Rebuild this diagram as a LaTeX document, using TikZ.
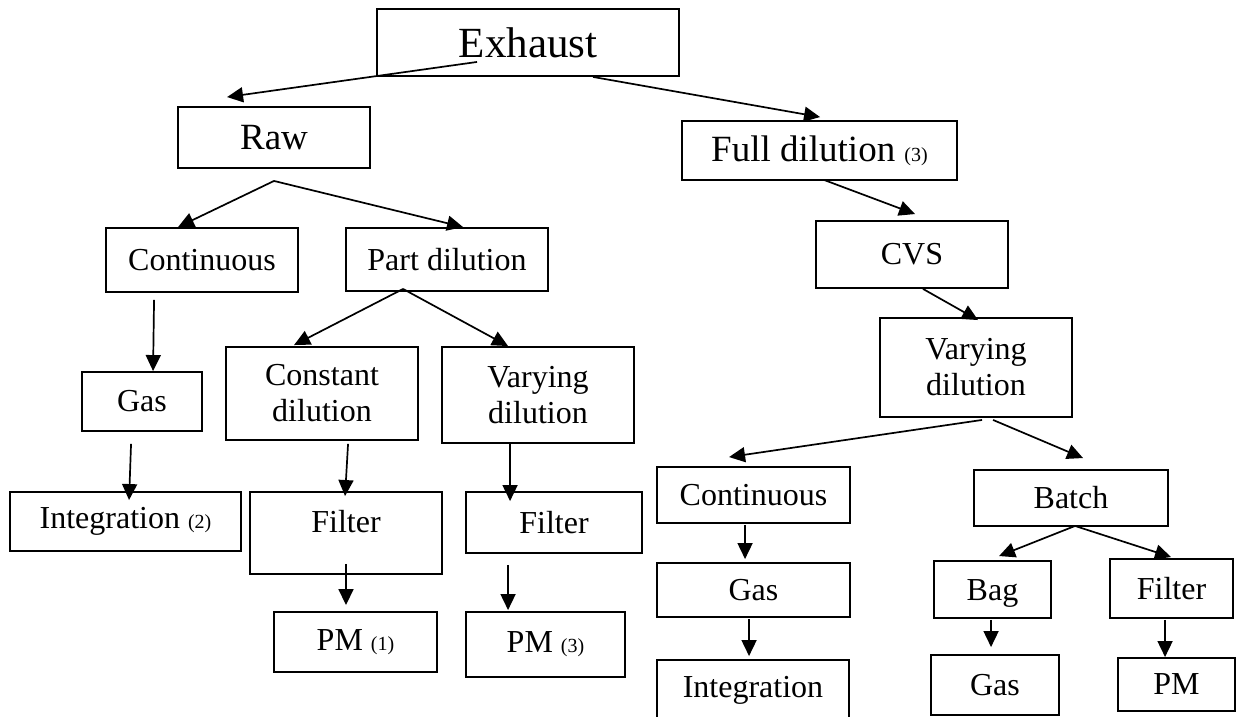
\documentclass[tikz,border=0pt]{standalone}
\usepackage{fontspec}
\setmainfont{Liberation Serif}
\usetikzlibrary{arrows.meta}
\newcommand{\smallnum}[1]{{\fontsize{20}{22}\selectfont(#1)}}
\begin{document}
\begin{tikzpicture}[x=1pt,y=-1pt,
  box/.style={draw, line width=1.9pt, inner sep=0pt, align=center, font=\fontsize{32}{36}\selectfont},
  bigbox/.style={box, font=\fontsize{37}{40}\selectfont},
  arr/.style={line width=1.7pt, -{Triangle[length=16pt,width=15pt]}}]
\fill[white] (0,0) rectangle (1243,717);
\useasboundingbox (0,0) rectangle (1243,717);
% nodes
\node[box, font=\fontsize{43}{46}\selectfont, minimum width=302pt, minimum height=67pt] (exh) at (528,42.5) {Exhaust};
\node[bigbox, minimum width=192pt, minimum height=61pt] (raw) at (274,137.5) {Raw};
\node[bigbox, minimum width=275pt, minimum height=59pt] (full) at (819.5,150.5) {Full dilution \smallnum{3}};
\node[box, minimum width=192pt, minimum height=64pt] (cont) at (202,260) {Continuous};
\node[box, minimum width=202pt, minimum height=63pt] (part) at (447,259.5) {Part dilution};
\node[box, minimum width=120pt, minimum height=59pt] (gasA) at (142,401.5) {Gas};
\node[box, minimum width=192pt, minimum height=93pt] (const) at (322,393.5) {Constant\\dilution};
\node[box, minimum width=192pt, minimum height=96pt] (varyA) at (538,395) {Varying\\dilution};
\node[box, minimum width=231pt, minimum height=59pt] (integA) at (125.5,521.5) {Integration \smallnum{2}};
\node[box, minimum width=192pt, minimum height=82pt, text height=22pt, text depth=24pt] (filtA) at (346,533) {Filter};
\node[box, minimum width=163pt, minimum height=60pt] (pmA) at (355.5,642) {PM \smallnum{1}};
\node[box, minimum width=176pt, minimum height=61pt] (filtB) at (554,522.5) {Filter};
\node[box, minimum width=159pt, minimum height=65pt] (pmB) at (545.5,644.5) {PM \smallnum{3}};
\node[box, minimum width=192pt, minimum height=67pt] (cvs) at (912,254.5) {CVS};
\node[box, minimum width=192pt, minimum height=99pt] (varyB) at (976,367.5) {Varying\\dilution};
\node[box, minimum width=193pt, minimum height=56pt] (contB) at (753.5,495) {Continuous};
\node[box, minimum width=194pt, minimum height=56pt] (batch) at (1071,498) {Batch};
\node[box, minimum width=193pt, minimum height=54pt] (gasB) at (753.5,590) {Gas};
\node[box, minimum width=192pt, minimum height=61pt] (integB) at (753,690.5) {Integration};
\node[box, minimum width=117pt, minimum height=57pt, text height=21pt, text depth=0pt] (bag) at (992.5,589.5) {Bag};
\node[box, minimum width=123pt, minimum height=59pt] (filtC) at (1171.5,588.5) {Filter};
\node[box, minimum width=128pt, minimum height=60pt] (gasC) at (995,685) {Gas};
\node[box, minimum width=117pt, minimum height=53pt] (pmC) at (1176.5,684.5) {PM};
% connectors
\draw[arr] ([xshift=101pt,yshift=15pt]exh.south west) -- ([xshift=50pt,yshift=9pt]raw.north west);
\draw[arr] ([xshift=217pt]exh.south west) -- ([xshift=139pt,yshift=3pt]full.north west);
\coordinate (rawsplit) at ([yshift=-12pt]raw.south);
\draw[arr] (rawsplit) -- ([xshift=73pt]cont.north west);
\draw[arr] (rawsplit) -- ([xshift=118pt]part.north west);
\draw[arr] ([xshift=49pt,yshift=-7pt]cont.south west) -- ([xshift=72pt]gasA.north west);
\coordinate (partsplit) at ([xshift=58pt,yshift=3pt]part.south west);
\draw[arr] (partsplit) -- ([xshift=69pt,yshift=1pt]const.north west);
\draw[arr] (partsplit) -- ([xshift=67pt]varyA.north west);
\draw[arr] ([xshift=50pt,yshift=-12pt]gasA.south west) -- ([xshift=120pt,yshift=-9pt]integA.north west);
\draw[arr] ([xshift=123pt,yshift=-3pt]const.south west) -- ([xshift=96pt,yshift=-5pt]filtA.north west);
\draw[arr] ([yshift=11pt]filtA.south) -- ([xshift=-9.5pt,yshift=6pt]pmA.north);
\draw[arr] ([xshift=69pt]varyA.south west) -- ([xshift=45pt,yshift=-10pt]filtB.north west);
\draw[arr] ([xshift=43pt,yshift=-11pt]filtB.south west) -- ([xshift=43pt,yshift=1pt]pmB.north west);
\draw[arr] ([xshift=143pt,yshift=1pt]full.south west) -- ([xshift=100pt,yshift=6pt]cvs.north west);
\draw[arr] ([xshift=108pt]cvs.south west) -- ([xshift=99pt,yshift=-3pt]varyB.north west);
\draw[arr] ([xshift=103pt,yshift=-2pt]varyB.south west) -- ([xshift=73pt,yshift=9pt]contB.north west);
\draw[arr] ([xshift=114pt,yshift=-2pt]varyB.south west) -- ([xshift=110pt,yshift=11pt]batch.north west);
\draw[arr] ([xshift=89pt,yshift=-1pt]contB.south west) -- ([xshift=89pt,yshift=3pt]gasB.north west);
\draw[arr] ([xshift=93pt,yshift=-1pt]gasB.south west) -- ([xshift=93pt,yshift=3pt]integB.north west);
\coordinate (batchsplit) at ([xshift=102pt,yshift=1pt]batch.south west);
\draw[arr] (batchsplit) -- ([xshift=66pt,yshift=4pt]bag.north west);
\draw[arr] (batchsplit) -- ([xshift=62pt,yshift=1pt]filtC.north west);
\draw[arr] ([xshift=58pt,yshift=-1pt]bag.south west) -- ([xshift=61pt,yshift=7pt]gasC.north west);
\draw[arr] ([xshift=56pt,yshift=-1pt]filtC.south west) -- ([xshift=48pt]pmC.north west);
\end{tikzpicture}
\end{document}
